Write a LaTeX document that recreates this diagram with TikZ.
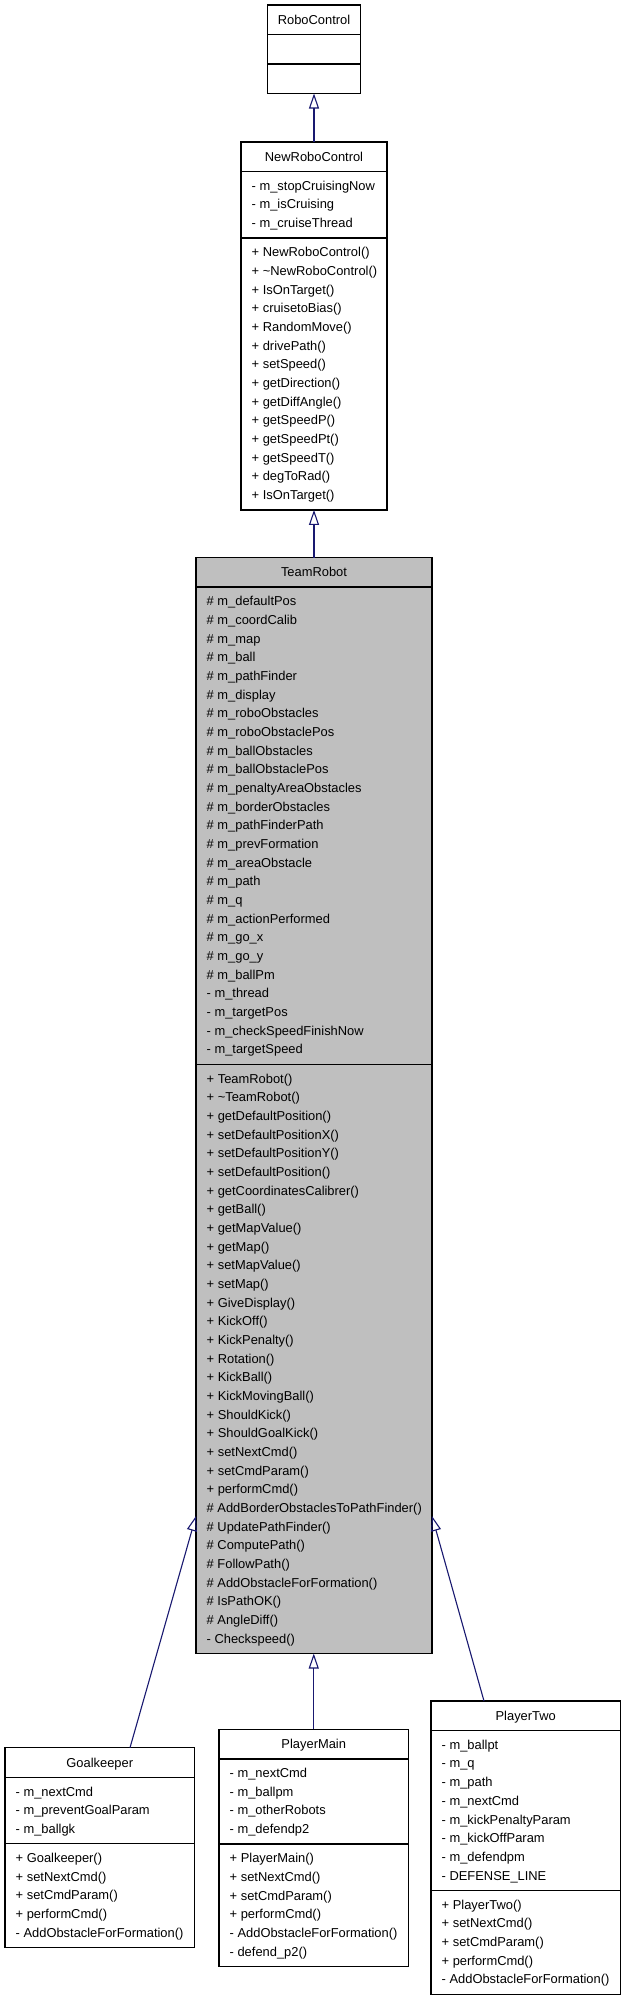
\documentclass[tikz,border=0pt]{standalone}
\usepackage{fontspec}
\setmainfont{Liberation Sans}
\usetikzlibrary{arrows.meta}
\definecolor{conn}{HTML}{191970}
\definecolor{trfill}{HTML}{BFBFBF}
\newcommand\classlines[4]{%
  \foreach \itm [count=\i from 0] in {#4} {\node[txt] (#1\i) at (#2, {#3+18.67*\i}) {\itm};}}
\begin{document}
\begin{tikzpicture}[x=1pt,y=-1pt,
  cls/.style={draw=black, line width=1.4pt, anchor=north west, inner sep=0pt, outer sep=0pt},
  divider/.style={draw=black, line width=1.4pt},
  txt/.style={anchor=base west, inner sep=0pt, font=\fontsize{12.9}{15}\selectfont},
  ttl/.style={anchor=base, inner sep=0pt, font=\fontsize{12.9}{15}\selectfont},
  inh/.style={draw=conn, line width=1.1pt, -{Triangle[open, length=15pt, width=10pt]}}]
\useasboundingbox (0,0) rectangle (627,2000);
\fill[white] (0,0) rectangle (627,2000);

% RoboControl
\node[cls, minimum width=93pt, minimum height=88.5pt] (rc) at (267.5,5) {};
\draw[divider] (267.5,34.5) -- ++(93,0);
\draw[divider] (267.5,64) -- ++(93,0);
\node[ttl] (rc-t) at (314,24.3) {RoboControl};

% NewRoboControl
\node[cls, minimum width=146pt, minimum height=367.9pt] (nrc) at (241,142) {};
\draw[divider] (241,171.5) -- ++(146,0);
\draw[divider] (241,238) -- ++(146,0);
\node[ttl] (nrc-t) at (314,161.3) {NewRoboControl};
\classlines{nrc-a}{251.5}{190.3}{- m\_stopCruisingNow,- m\_isCruising,- m\_cruiseThread}
\classlines{nrc-m}{251.5}{256.8}{+ NewRoboControl(),+ \textasciitilde NewRoboControl(),+ IsOnTarget(),+ cruisetoBias(),+ RandomMove(),+ drivePath(),+ setSpeed(),+ getDirection(),+ getDiffAngle(),+ getSpeedP(),+ getSpeedPt(),+ getSpeedT(),+ degToRad(),+ IsOnTarget()}

% TeamRobot
\node[cls, fill=trfill, minimum width=236pt, minimum height=1096pt] (tr) at (196,557.5) {};
\draw[divider] (196,587) -- ++(236,0);
\draw[divider] (196,1064.25) -- ++(236,0);
\node[ttl] (tr-t) at (314,576.8) {TeamRobot};
\classlines{tr-a}{206.5}{605.8}{\# m\_defaultPos,\# m\_coordCalib,\# m\_map,\# m\_ball,\# m\_pathFinder,\# m\_display,\# m\_roboObstacles,\# m\_roboObstaclePos,\# m\_ballObstacles,\# m\_ballObstaclePos,\# m\_penaltyAreaObstacles,\# m\_borderObstacles,\# m\_pathFinderPath,\# m\_prevFormation,\# m\_areaObstacle,\# m\_path,\# m\_q,\# m\_actionPerformed,\# m\_go\_x,\# m\_go\_y,\# m\_ballPm,- m\_thread,- m\_targetPos,- m\_checkSpeedFinishNow,- m\_targetSpeed}
\classlines{tr-m}{206.5}{1083.05}{+ TeamRobot(),+ \textasciitilde TeamRobot(),+ getDefaultPosition(),+ setDefaultPositionX(),+ setDefaultPositionY(),+ setDefaultPosition(),+ getCoordinatesCalibrer(),+ getBall(),+ getMapValue(),+ getMap(),+ setMapValue(),+ setMap(),+ GiveDisplay(),+ KickOff(),+ KickPenalty(),+ Rotation(),+ KickBall(),+ KickMovingBall(),+ ShouldKick(),+ ShouldGoalKick(),+ setNextCmd(),+ setCmdParam(),+ performCmd(),\# AddBorderObstaclesToPathFinder(),\# UpdatePathFinder(),\# ComputePath(),\# FollowPath(),\# AddObstacleForFormation(),\# IsPathOK(),\# AngleDiff(),- Checkspeed()}

% Goalkeeper
\node[cls, minimum width=189.5pt, minimum height=199.85pt] (gk) at (5,1747.7) {};
\draw[divider] (5,1777.2) -- ++(189.5,0);
\draw[divider] (5,1843.7) -- ++(189.5,0);
\node[ttl] (gk-t) at (99.75,1767) {Goalkeeper};
\classlines{gk-a}{15.5}{1796}{- m\_nextCmd,- m\_preventGoalParam,- m\_ballgk}
\classlines{gk-m}{15.5}{1862.5}{+ Goalkeeper(),+ setNextCmd(),+ setCmdParam(),+ performCmd(),- AddObstacleForFormation()}

% PlayerMain
\node[cls, minimum width=189.5pt, minimum height=237.2pt] (pm) at (219,1729.3) {};
\draw[divider] (219,1758.8) -- ++(189.5,0);
\draw[divider] (219,1843.98) -- ++(189.5,0);
\node[ttl] (pm-t) at (313.75,1748.6) {PlayerMain};
\classlines{pm-a}{229.5}{1777.6}{- m\_nextCmd,- m\_ballpm,- m\_otherRobots,- m\_defendp2}
\classlines{pm-m}{229.5}{1862.8}{+ PlayerMain(),+ setNextCmd(),+ setCmdParam(),+ performCmd(),- AddObstacleForFormation(),- defend\_p2()}

% PlayerTwo
\node[cls, minimum width=189.5pt, minimum height=293.2pt] (pt) at (431,1701) {};
\draw[divider] (431,1730.5) -- ++(189.5,0);
\draw[divider] (431,1890.36) -- ++(189.5,0);
\node[ttl] (pt-t) at (525.75,1720.3) {PlayerTwo};
\classlines{pt-a}{441.5}{1749.3}{- m\_ballpt,- m\_q,- m\_path,- m\_nextCmd,- m\_kickPenaltyParam,- m\_kickOffParam,- m\_defendpm,- DEFENSE\_LINE}
\classlines{pt-m}{441.5}{1909.2}{+ PlayerTwo(),+ setNextCmd(),+ setCmdParam(),+ performCmd(),- AddObstacleForFormation()}

% Inheritance connectors
\draw[inh] (nrc.north) -- (rc.south);
\draw[inh] (tr.north) -- (nrc.south);
\draw[inh] (pm.north) -- (pm.north |- tr.south);
\draw[inh] ([xshift=30.25pt]gk.north) -- ([yshift=-410.5pt]tr.west);
\draw[inh] ([xshift=-41.75pt]pt.north) -- ([yshift=-410.5pt]tr.east);
\end{tikzpicture}
\end{document}
